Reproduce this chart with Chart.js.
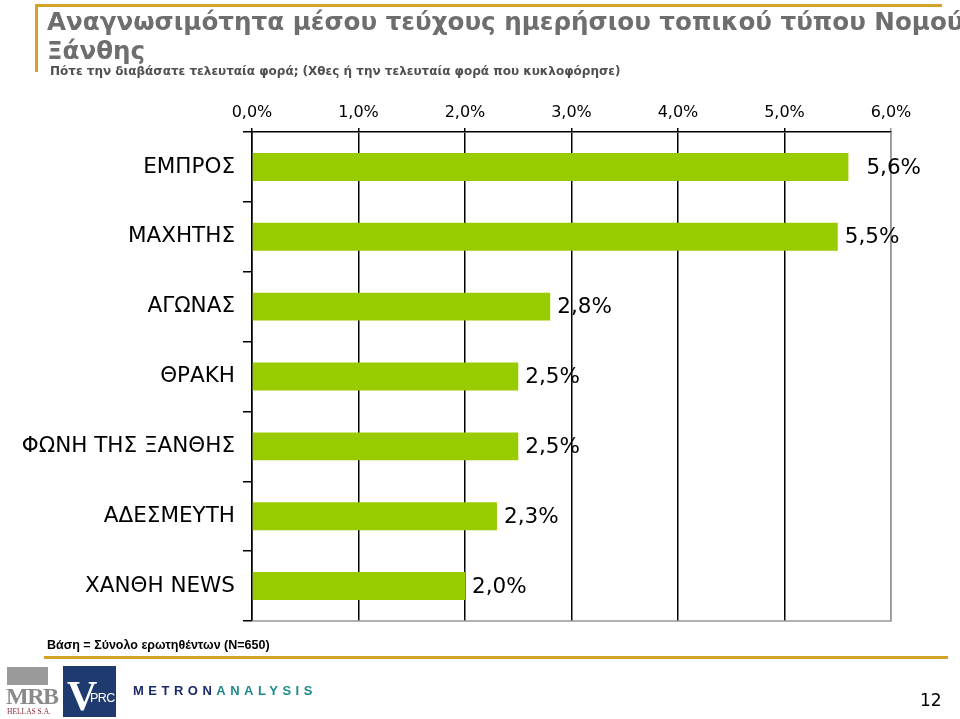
<!DOCTYPE html>
<html>
<head>
<meta charset="utf-8">
<script src="https://cdn.jsdelivr.net/npm/chart.js@4.4.1/dist/chart.umd.min.js"></script>
<style>
  html, body { margin:0; padding:0; background:#fff; }
  #wrap { position:relative; width:960px; height:719px; overflow:hidden; font-family:"DejaVu Sans", Verdana, sans-serif; }
  #c { position:absolute; left:0; top:0; }
  .abs { position:absolute; white-space:nowrap; }
  #goldTop { left:35px; top:4px; width:907px; height:3px; background:#D4A428; }
  #goldLeft { left:35px; top:4px; width:3px; height:68px; background:#D4A428; }
  #title { left:47px; top:7px; font-weight:bold; font-size:24.6px; line-height:29px; color:#6e6e6e; }
  #subtitle { left:50px; top:64px; font-weight:bold; font-size:12px; color:#505050; }
  #base { left:47px; top:638px; font-family:"Liberation Sans", Arial, sans-serif; font-weight:bold; font-size:12.5px; color:#000; }
  #goldBot { left:44px; top:656px; width:904px; height:3px; background:#D4A428; }
  #page { left:920px; top:690px; font-size:17px; color:#000; }
  #mrbBox { left:7px; top:667px; width:41px; height:18px; background:#9a9a9a; }
  #mrbText { left:6px; top:683px; font-family:"Liberation Serif", serif; font-weight:bold; font-size:24px; color:#8a8a8a; letter-spacing:-1.5px; }
  #mrbSub { left:7px; top:707px; font-family:"Liberation Serif", serif; font-size:7.5px; color:#8a2a3a; }
  #vprc { left:63px; top:666px; width:53px; height:51px; background:#1f3a6e; }
  #vprcV { left:67px; top:672px; font-family:"Liberation Serif", serif; font-weight:bold; font-size:42px; color:#fff; }
  #vprcT { left:90px; top:691px; font-family:"Liberation Sans", sans-serif; font-size:12.5px; letter-spacing:-0.5px; color:#fff; }
  #metron { left:133px; top:683px; font-family:"Liberation Sans", Arial, sans-serif; font-weight:bold; font-size:13px; letter-spacing:4.5px; }
</style>
</head>
<body>
<div id="wrap">
  <canvas id="c" width="960" height="719"></canvas>
  <div class="abs" id="goldTop"></div>
  <div class="abs" id="goldLeft"></div>
  <div class="abs" id="title">Αναγνωσιμότητα μέσου τεύχους ημερήσιου τοπικού τύπου Νομού<br>Ξάνθης</div>
  <div class="abs" id="subtitle">Πότε την διαβάσατε τελευταία φορά; (Χθες ή την τελευταία φορά που κυκλοφόρησε)</div>
  <div class="abs" id="base">Βάση = Σύνολο ερωτηθέντων (N=650)</div>
  <div class="abs" id="goldBot"></div>
  <div class="abs" id="mrbBox"></div>
  <div class="abs" id="mrbText">MRB</div>
  <div class="abs" id="mrbSub">HELLAS S.A.</div>
  <div class="abs" id="vprc"></div>
  <div class="abs" id="vprcV">V</div>
  <div class="abs" id="vprcT">PRC</div>
  <div class="abs" id="metron"><span style="color:#1a2a6c">METRON</span><span style="color:#1f8a8a">ANALYSIS</span></div>
  <div class="abs" id="page">12</div>
</div>
<script>
const categories = ["ΕΜΠΡΟΣ", "ΜΑΧΗΤΗΣ", "ΑΓΩΝΑΣ", "ΘΡΑΚΗ", "ΦΩΝΗ ΤΗΣ ΞΑΝΘΗΣ", "ΑΔΕΣΜΕΥΤΗ", "ΧΑΝΘΗ NEWS"];
const readership = [5.6, 5.5, 2.8, 2.5, 2.5, 2.3, 2.0];
const axisTicks = [0, 1, 2, 3, 4, 5, 6];

const fmt = v => v.toFixed(1).replace('.', ',') + '%';
const labelGaps = [18, 7, 7, 7, 7, 7, 7];

const labelPlugin = {
  id: 'valueLabels',
  afterDatasetsDraw(chart) {
    const ctx = chart.ctx;
    const meta = chart.getDatasetMeta(0);
    ctx.save();
    ctx.font = '21.5px "DejaVu Sans"';
    ctx.fillStyle = '#000';
    ctx.textAlign = 'left';
    ctx.textBaseline = 'middle';
    meta.data.forEach((bar, i) => {
      ctx.fillText(fmt(readership[i]), bar.x + labelGaps[i], bar.y + 1);
    });
    ctx.restore();
  }
};

const frame = {
  id: 'frame',
  beforeDatasetsDraw(chart) {
    const a = chart.chartArea;
    const ctx = chart.ctx;
    ctx.save();
    ctx.strokeStyle = '#999';
    ctx.lineWidth = 1.5;
    ctx.beginPath();
    ctx.moveTo(a.left, a.bottom);
    ctx.lineTo(a.right, a.bottom);
    ctx.lineTo(a.right, a.top);
    ctx.stroke();
    ctx.restore();
  }
};

new Chart(document.getElementById('c'), {
  type: 'bar',
  data: {
    labels: categories,
    datasets: [{
      data: readership,
      backgroundColor: '#99CC00',
      borderWidth: 0,
      barPercentage: 0.4,
      categoryPercentage: 1.0
    }]
  },
  options: {
    indexAxis: 'y',
    responsive: false,
    animation: false,
    layout: { padding: { left: 0, right: 69, top: 0, bottom: 98 } },
    plugins: { legend: { display: false }, tooltip: { enabled: false } },
    scales: {
      x: {
        position: 'top',
        min: 0, max: 6,
        afterFit(s) { s.height = 132; },
        afterBuildTicks(s) { s.ticks = axisTicks.map(v => ({ value: v })); },
        ticks: {
          callback: v => fmt(v),
          color: '#000',
          font: { family: 'DejaVu Sans', size: 16 },
          padding: 6,
          maxRotation: 0
        },
        grid: {
          color: ctx => (ctx.tick && ctx.tick.value === 6) ? '#999' : '#000',
          lineWidth: 1.5,
          tickLength: 4,
          drawTicks: true
        },
        border: { display: true, color: '#000', width: 1.5 }
      },
      y: {
        afterFit(s) { s.width = 252; },
        ticks: {
          color: '#000',
          font: { family: 'DejaVu Sans', size: 21.5 },
          padding: 8
        },
        grid: {
          offset: true,
          drawOnChartArea: false,
          drawTicks: true,
          tickLength: 9,
          color: '#000',
          lineWidth: 1.5
        },
        border: { display: true, color: '#000', width: 1.5 }
      }
    }
  },
  plugins: [frame, labelPlugin]
});
</script>
</body>
</html>
